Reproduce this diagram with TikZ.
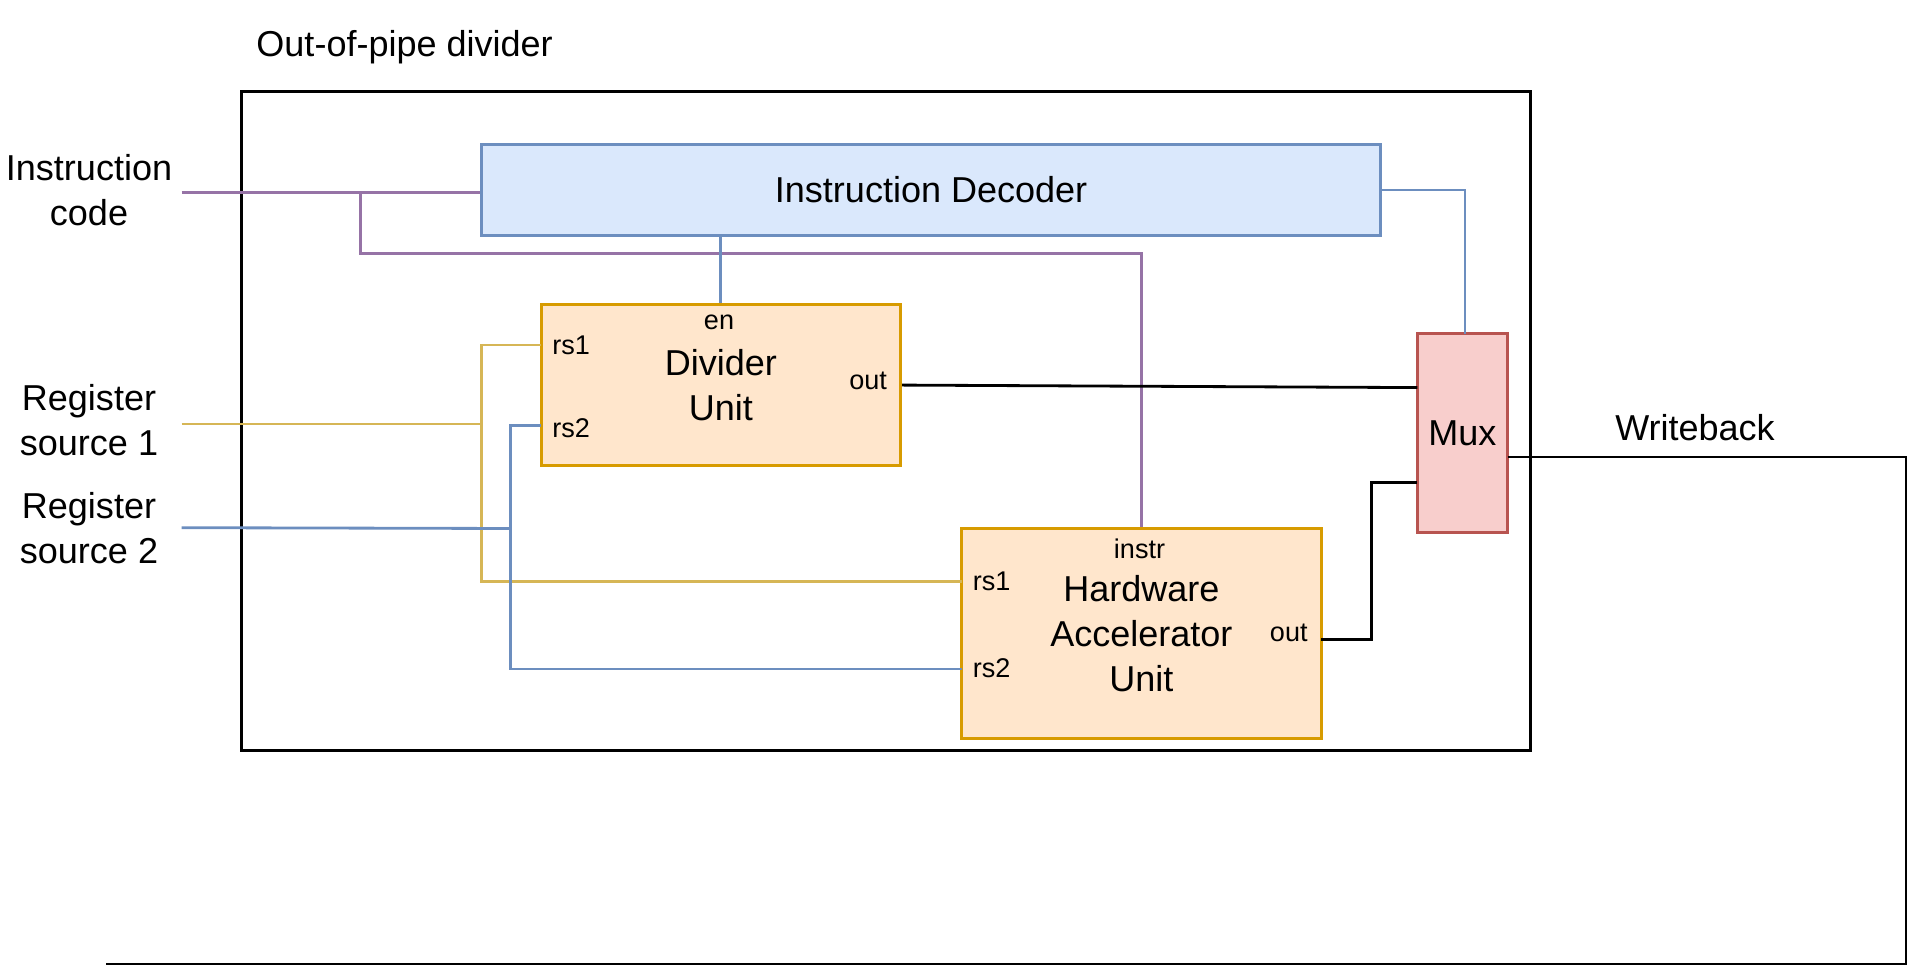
\documentclass[tikz,border=0pt]{standalone}
\usepackage{fontspec}
\setmainfont{Liberation Sans}
\definecolor{decfill}{HTML}{DAE8FC}
\definecolor{decline}{HTML}{6C8EBF}
\definecolor{unitfill}{HTML}{FFE6CC}
\definecolor{unitline}{HTML}{D79B00}
\definecolor{muxfill}{HTML}{F8CECC}
\definecolor{muxline}{HTML}{B85450}
\definecolor{wirepurple}{HTML}{9673A6}
\definecolor{wireyellow}{HTML}{D6B656}
\newcommand{\bigtxt}{\fontsize{20.5}{25.6}\selectfont}
\newcommand{\smalltxt}{\fontsize{15.4}{18.5}\selectfont}

\begin{document}
\begin{tikzpicture}[line width=1.6pt,
  unitbox/.style={draw=unitline, fill=unitfill, line width=1.7pt, align=center, font=\bigtxt},
  lbl/.style={align=center, font=\bigtxt},
  port/.style={inner sep=0pt, font=\smalltxt}]
\useasboundingbox (0,0) rectangle (38.22,19.38);

\node (title) at (8.092,18.43) [lbl]{Out-of-pipe divider};
\node (frame) at (17.72,10.959) [draw, line width=1.9pt, minimum width=25.788cm, minimum height=13.186cm]{};

\node (dec) at (18.622,15.578) [draw=decline, fill=decfill, line width=1.7pt, minimum width=17.988cm, minimum height=1.804cm, font=\bigtxt]{Instruction Decoder};
\node (div) at (14.417,11.678) [unitbox, minimum width=7.19cm, minimum height=3.216cm]{Divider\\Unit};
\node (hw) at (22.827,6.706) [unitbox, minimum width=7.19cm, minimum height=4.192cm]{Hardware\\Accelerator\\Unit};
\node (mux) at (29.248,10.715) [draw=muxline, fill=muxfill, line width=1.7pt, minimum width=1.804cm, minimum height=3.974cm, font=\bigtxt]{Mux};

% ports
\node (div-en) at (14.38,12.93) [port]{en};
\node (div-rs1) at (11.018,12.48) [port, anchor=west]{rs1};
\node (div-rs2) at (11.018,10.82) [port, anchor=west]{rs2};
\node (div-out) at (17.768,11.76) [port, anchor=east]{out};
\node (hw-instr) at (22.79,8.41) [port]{instr};
\node (hw-rs1) at (19.43,7.754) [port, anchor=west]{rs1};
\node (hw-rs2) at (19.43,6.022) [port, anchor=west]{rs2};
\node (hw-out) at (26.18,6.73) [port, anchor=east]{out};

% outside labels
\node (icl) at (1.78,15.58) [lbl]{Instruction\\code};
\node (rs1l) at (1.78,10.97) [lbl]{Register\\source 1};
\node (rs2l) at (1.78,8.826) [lbl]{Register\\source 2};
\node (wbl) at (33.9,10.824) [lbl]{Writeback};

\coordinate (ic) at (3.632,15.53);
\coordinate (icsplit) at (7.214,15.53);
\coordinate (rs1in) at (3.632,10.9);
\coordinate (rs1bus) at (9.628,10.9);
\coordinate (rs2in) at (3.632,8.826);
\coordinate (rs2bus) at (10.212,8.81);
\coordinate (div-p1) at (10.822,12.48);
\coordinate (div-p2) at (10.822,10.874);
\coordinate (hw-p1) at (19.232,7.754);
\coordinate (hw-p2) at (19.232,6.0);
\coordinate (hw-o) at (26.422,6.584);
\coordinate (mux-in1) at (28.346,11.628);
\coordinate (mux-in2) at (28.346,9.728);
\coordinate (mux-sel) at (29.3,12.702);
\coordinate (mux-out) at (30.15,10.24);
\coordinate (wb) at (2.12,0.1);

% instruction code
\draw [wirepurple] (ic) -- (dec.west |- ic);
\draw [wirepurple] (icsplit) -- (7.214,14.31) -| (hw.north);

% decoder enables
\draw [decline] (dec.south -| div.north) -- (div.north);
\draw [decline] (dec.east) -| (mux-sel);

% results
\draw (div.east) -- (mux-in1);
\draw (hw-o) -- ++(1,0) |- (mux-in2);
\draw (mux-out) -| (38.12,0.1) -- (wb);

% register sources
\draw [wireyellow] (rs1in) -- (rs1bus);
\draw [wireyellow] (div-p1) -| (9.628,7.754) -- (hw-p1);
\draw [decline] (rs2in) -- (rs2bus);
\draw [decline] (div-p2) -| (10.212,6.0) -- (hw-p2);
\end{tikzpicture}
\end{document}
